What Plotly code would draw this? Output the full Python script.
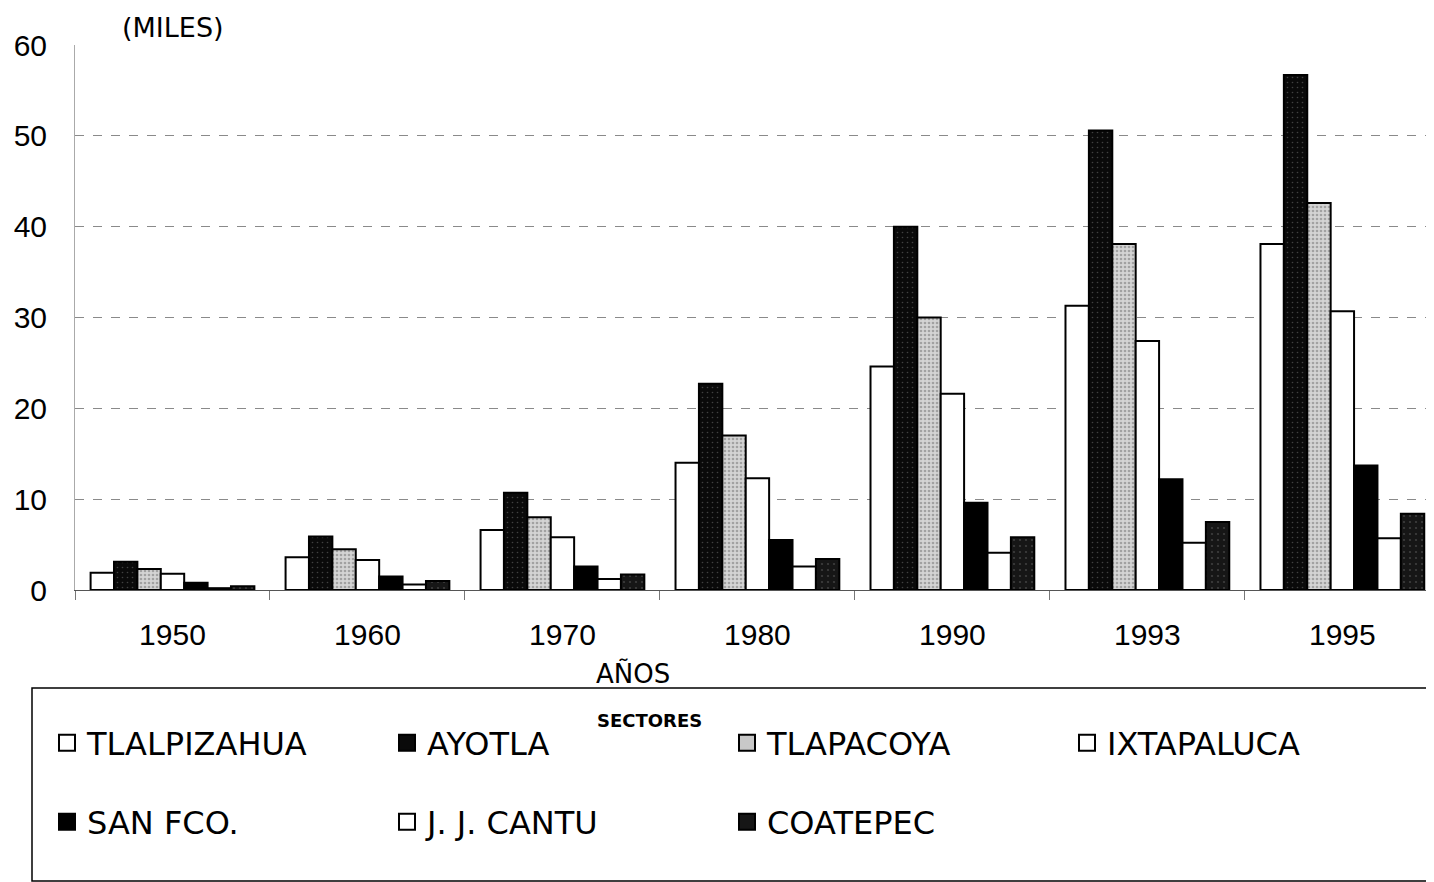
import plotly.graph_objects as go

years = ["1950", "1960", "1970", "1980", "1990", "1993", "1995"]
sectors = ["TLALPIZAHUA", "AYOTLA", "TLAPACOYA", "IXTAPALUCA", "SAN FCO.", "J. J. CANTU", "COATEPEC"]

tlalpizahua = [1.9, 3.6, 6.6, 14.0, 24.6, 31.3, 38.1]
ayotla = [3.1, 5.9, 10.7, 22.7, 40.0, 50.6, 56.7]
tlapacoya = [2.3, 4.5, 8.0, 17.0, 30.0, 38.1, 42.6]
ixtapaluca = [1.8, 3.3, 5.8, 12.3, 21.6, 27.4, 30.7]
san_fco = [0.8, 1.5, 2.6, 5.5, 9.6, 12.2, 13.7]
jj_cantu = [0.2, 0.6, 1.2, 2.6, 4.1, 5.2, 5.7]
coatepec = [0.4, 1.0, 1.7, 3.4, 5.8, 7.5, 8.4]

series = [tlalpizahua, ayotla, tlapacoya, ixtapaluca, san_fco, jj_cantu, coatepec]
fills = ["#ffffff", "#0a0a0a", "#c8c8c8", "#ffffff", "#000000", "#ffffff", "#161616"]
patterns = [None, dict(shape=".", fgcolor="#777777", size=5, solidity=0.08),
            dict(shape=".", fgcolor="#6e6e6e", bgcolor="#d4d4d4", size=4, solidity=0.35),
            None, None, None,
            dict(shape=".", fgcolor="#666666", size=6, solidity=0.1)]
legend_ids = ["legend", "legend", "legend", "legend", "legend2", "legend2", "legend2"]

# page body has an 8px margin; work in screen pixels and shift
OFF = 8
W, H = 1434 - OFF, 882 - OFF
L = 75 - OFF
T = 45 - OFF
B = H - (590 - OFF)
pw = W - L
ph = H - T - B

def px_x(p):
    return (p - OFF - L) / pw

def px_y(p):
    return (H - B - (p - OFF)) / ph

fig = go.Figure()
for name, vals, col, pat in zip(sectors, series, fills, patterns):
    marker = dict(color=col, line=dict(color="#000000", width=2))
    if pat is not None:
        marker["pattern"] = pat
    fig.add_trace(go.Bar(x=years, y=vals, name=name, marker=marker, showlegend=False))

for name, col, leg in zip(sectors, fills, legend_ids):
    fig.add_trace(go.Scatter(
        x=[None], y=[None], mode="markers", name=name, legend=leg, showlegend=True,
        marker=dict(symbol="square", size=16, color=col, line=dict(color="#000000", width=2)),
    ))

legend_font = dict(family="DejaVu Sans, sans-serif", size=32, color="#000000")
common_leg = dict(orientation="h", xref="container", yref="container", xanchor="left",
                  yanchor="middle", entrywidth=295, entrywidthmode="pixels",
                  itemsizing="trace", font=legend_font, bgcolor="rgba(0,0,0,0)",
                  borderwidth=0, itemclick=False)

tick_font = dict(family="Liberation Sans, Arial, sans-serif", size=30, color="#000000")

fig.update_layout(
    width=W, height=H,
    margin=dict(l=L, r=0, t=T, b=B),
    paper_bgcolor="#ffffff", plot_bgcolor="#ffffff",
    barmode="group", bargap=0.16, bargroupgap=0.0,
    legend=dict(x=(66 - 19 - OFF) / W, y=1 - (743 - OFF) / H, **common_leg),
    legend2=dict(x=(66 - 19 - OFF) / W, y=1 - (822 - OFF) / H, **common_leg),
    xaxis=dict(
        type="category", range=[-0.5, 6.47],
        showline=True, linecolor="#555555", linewidth=1,
        ticks="outside", tickson="boundaries", ticklen=9, tickcolor="#777777",
        tickfont=tick_font, ticklabelstandoff=18, showgrid=False,
    ),
    yaxis=dict(
        range=[0, 60], tickvals=[0, 10, 20, 30, 40, 50, 60],
        showline=True, linecolor="#aaaaaa", linewidth=1,
        showgrid=True, gridcolor="#8a8a8a", griddash="dash", gridwidth=1,
        zeroline=False, ticks="",
        tickfont=tick_font, ticklabelstandoff=21,
    ),
    shapes=[dict(type="rect", xref="paper", yref="paper",
                 x0=px_x(32), x1=px_x(1445), y0=px_y(688), y1=px_y(881),
                 line=dict(color="#000000", width=1.5), fillcolor="rgba(0,0,0,0)")],
    annotations=[
        dict(text="(MILES)", x=px_x(173), y=px_y(27), xref="paper", yref="paper",
             showarrow=False, xanchor="center", yanchor="middle",
             font=dict(family="DejaVu Sans, sans-serif", size=27, color="#000000")),
        dict(text="AÑOS", x=px_x(633), y=px_y(673), xref="paper", yref="paper",
             showarrow=False, xanchor="center", yanchor="middle",
             font=dict(family="DejaVu Sans, sans-serif", size=26, color="#000000")),
        dict(text="<b>SECTORES</b>", x=px_x(649), y=px_y(720), xref="paper", yref="paper",
             showarrow=False, xanchor="center", yanchor="middle",
             font=dict(family="DejaVu Sans, sans-serif", size=18, color="#000000")),
    ],
)

fig.write_html("out.html")
